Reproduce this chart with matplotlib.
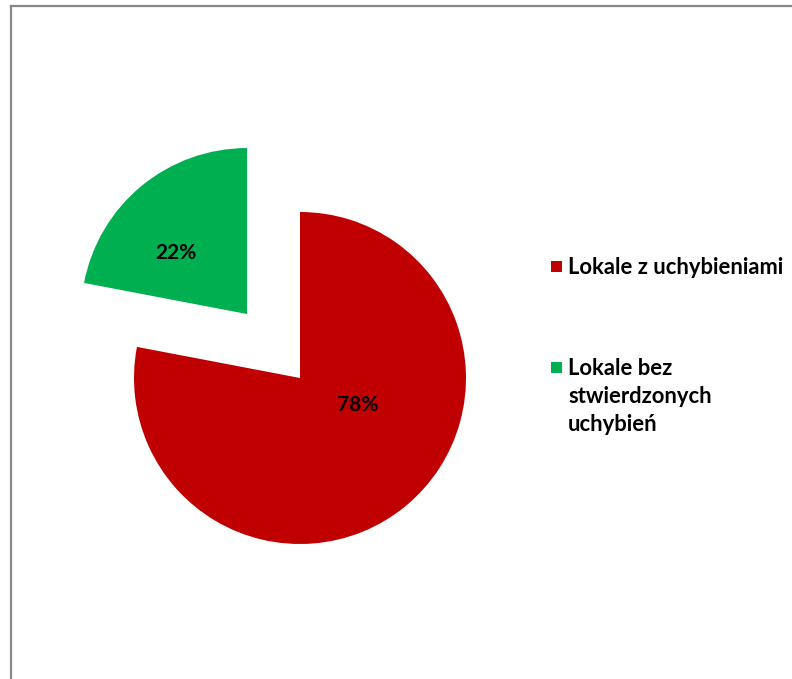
import matplotlib
matplotlib.use("Agg")
import matplotlib.pyplot as plt
from matplotlib.patches import Rectangle
from matplotlib.lines import Line2D

labels = ["Lokale z uchybieniami", "Lokale bez\nstwierdzonych\nuchybień"]
values = [78, 22]
colors = ["#C00000", "#00B050"]
explode = [0, 0.5]

plt.rcParams['font.family'] = ['Lato', 'DejaVu Sans']

W, H = 792, 679
fig = plt.figure(figsize=(W / 100, H / 100), dpi=100)

# axes placed so that the pie centre lands at (300, 378) px, radius 166 px
R = 166
L = 1.6
side = 2 * L * R
cx, cy = 300, H - 378
ax = fig.add_axes([(cx - side / 2) / W, (cy - side / 2) / H, side / W, side / H])
wedges, texts, autotexts = ax.pie(values, colors=colors, explode=explode, startangle=90,
                                  counterclock=False, radius=1,
                                  autopct=lambda p: f"{p:.0f}%",
                                  textprops=dict(fontsize=15, fontweight='bold', color='black'),
                                  wedgeprops=dict(linewidth=0))
ax.set_xlim(-L, L)
ax.set_ylim(-L, L)
ax.set_aspect('equal')
ax.axis('off')

# Excel-like label placement
autotexts[0].set_position((58 / R, -27 / R))
autotexts[1].set_position((-124 / R, 125 / R))

# legend drawn manually
legend_top = [257, 358]
for lab, col, yt in zip(labels, colors, legend_top):
    fig.add_artist(Rectangle((551 / W, 1 - (yt + 15) / H), 11 / W, 11 / H,
                             transform=fig.transFigure, facecolor=col, edgecolor='none'))
    fig.text(568 / W, 1 - yt / H, lab, fontsize=15.8, fontweight='bold',
             va='top', ha='left', linespacing=1.42)

# frame
fig.add_artist(Line2D([11 / W, 11 / W], [0, 1 - 5.5 / H], transform=fig.transFigure,
                      color='#888888', linewidth=1.6))
fig.add_artist(Line2D([11 / W, 1], [1 - 5.5 / H, 1 - 5.5 / H], transform=fig.transFigure,
                      color='#888888', linewidth=1.6))

fig.savefig("out.png", dpi=100)
